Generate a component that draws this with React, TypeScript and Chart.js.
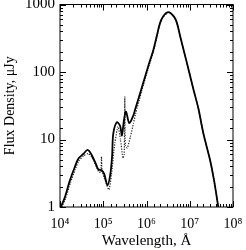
import React, { useEffect, useRef } from "react";
import { Chart, registerables } from "chart.js";

Chart.register(...registerables);

const solidWavelength = [1.05e4, 1.3e4, 1.7e4, 2.2e4, 2.65e4, 3.45e4, 4.35e4, 5.4e4, 6.7e4, 7.7e4, 9.1e4, 1.05e5, 1.25e5, 1.45e5, 1.6e5, 1.7e5, 2.05e5, 2.45e5, 2.7e5, 3.0e5, 3.35e5, 4.0e5, 5.0e5, 5.42e5, 7.74e5, 1.1e6, 1.44e6, 1.75e6, 2.05e6, 2.44e6, 3.2e6, 4.32e6, 5.07e6, 5.96e6, 8.5e6, 1.21e7, 1.58e7, 2.06e7, 2.94e7, 3.64e7, 4.57e7];
const solidFlux = [1.0, 1.4, 2.5, 3.9, 5.2, 6.1, 7.0, 5.9, 4.4, 3.6, 3.5, 3.1, 2.1, 3.0, 5.6, 12, 18, 16, 11.5, 19, 26, 17.5, 23, 27.4, 58, 123, 212, 353, 530, 670, 770, 660, 530, 345, 140, 56, 29, 12.4, 5.0, 2.5, 1.0];

const dottedWavelength = [1.1e4, 1.35e4, 1.75e4, 2.25e4, 2.7e4, 3.5e4, 4.45e4, 5.5e4, 6.8e4, 8.0e4, 8.8e4, 9.1e4, 9.4e4, 1.1e5, 1.35e5, 1.55e5, 1.85e5, 2.2e5, 2.5e5, 2.85e5, 3.05e5, 3.15e5, 3.25e5, 3.6e5, 4.25e5, 5.0e5, 5.6e5, 7.74e5, 1.1e6, 1.44e6, 1.75e6, 2.05e6, 2.44e6, 3.2e6, 4.32e6, 5.07e6, 5.96e6, 8.5e6, 1.21e7, 1.58e7, 2.06e7, 2.94e7, 3.64e7, 4.57e7];
const dottedFlux = [1.0, 1.35, 2.3, 3.6, 4.8, 5.7, 6.2, 5.4, 4.0, 3.3, 3.3, 5.6, 3.4, 2.5, 1.8, 3.0, 8.8, 15.5, 10, 5.3, 6, 43, 8, 7.5, 11, 17.4, 24, 52, 114, 198, 335, 510, 655, 760, 660, 530, 345, 140, 56, 29, 12.4, 5.0, 2.5, 1.0];

const xTickLabels: Record<number, string> = { 4: "10⁴", 5: "10⁵", 6: "10⁶", 7: "10⁷", 8: "10⁸" };
const yTickLabels: Record<number, string> = { 0: "1", 1: "10", 2: "100", 3: "1000" };

const FONT = "'Liberation Serif', 'Times New Roman', serif";

function isDecade(v: number) {
  const l = Math.log10(v);
  return Math.abs(l - Math.round(l)) < 1e-6;
}

const inwardTicks = {
  id: "inwardTicks",
  afterDraw(chart: any) {
    const ctx = chart.ctx;
    const { left, right, top, bottom } = chart.chartArea;
    ctx.save();
    ctx.strokeStyle = "#000";
    ctx.lineWidth = 1;
    ctx.strokeRect(left, top, right - left, bottom - top);
    const xs = chart.scales.x;
    const ys = chart.scales.y;
    ctx.beginPath();
    xs.ticks.forEach((t: any) => {
      const p = Math.round(xs.getPixelForValue(t.value)) + 0.5;
      const len = isDecade(t.value) ? 6 : 3;
      ctx.moveTo(p, bottom);
      ctx.lineTo(p, bottom - len);
      ctx.moveTo(p, top);
      ctx.lineTo(p, top + len);
    });
    ys.ticks.forEach((t: any) => {
      const p = Math.round(ys.getPixelForValue(t.value)) + 0.5;
      const len = isDecade(t.value) ? 6 : 3;
      ctx.moveTo(left, p);
      ctx.lineTo(left + len, p);
      ctx.moveTo(right, p);
      ctx.lineTo(right - len, p);
    });
    ctx.stroke();
    ctx.restore();
  },
};

export default function App() {
  const ref = useRef<HTMLCanvasElement>(null);
  useEffect(() => {
    document.body.style.margin = "0";
    const chart = new Chart(ref.current!, {
      type: "line",
      data: {
        datasets: [
          {
            data: solidWavelength.map((x, i) => ({ x, y: solidFlux[i] })),
            borderColor: "#000",
            borderWidth: 1.8,
            pointRadius: 0,
            tension: 0.3,
            fill: false,
          },
          {
            data: dottedWavelength.map((x, i) => ({ x, y: dottedFlux[i] })),
            borderColor: "#222",
            borderWidth: 1.2,
            borderDash: [1.2, 1.4],
            pointRadius: 0,
            tension: 0.2,
            fill: false,
          },
        ],
      },
      options: {
        animation: false,
        responsive: false,
        maintainAspectRatio: false,
        layout: { padding: { top: 4.5, right: 13, left: 0, bottom: 0 } },
        plugins: { legend: { display: false }, tooltip: { enabled: false } },
        scales: {
          x: {
            type: "logarithmic",
            min: 1e4,
            max: 1e8,
            grid: { display: false, drawTicks: false },
            border: { display: false },
            ticks: {
              autoSkip: false,
              maxRotation: 0,
              padding: 9,
              color: "#000",
              font: { family: FONT, size: 14 },
              callback: (v: any) => (isDecade(v) ? xTickLabels[Math.round(Math.log10(v))] : ""),
            },
            title: {
              display: true,
              text: "Wavelength, Å",
              color: "#000",
              font: { family: FONT, size: 15 },
              padding: { top: 0, bottom: 0 },
            },
            afterFit: (s: any) => {
              s.height = 43;
              s.paddingLeft = 0;
              s.paddingRight = 0;
            },
          },
          y: {
            type: "logarithmic",
            min: 1,
            max: 1000,
            grid: { display: false, drawTicks: false },
            border: { display: false },
            ticks: {
              autoSkip: false,
              padding: 5,
              color: "#000",
              font: { family: FONT, size: 15 },
              callback: (v: any) => (isDecade(v) ? yTickLabels[Math.round(Math.log10(v))] : ""),
            },
            title: {
              display: true,
              text: "Flux Density, μJy",
              color: "#000",
              font: { family: FONT, size: 14 },
              padding: { top: 2, bottom: 4 },
            },
            afterFit: (s: any) => {
              s.width = 60;
              s.paddingTop = 0;
              s.paddingBottom = 0;
            },
          },
        },
      },
      plugins: [inwardTicks],
    });
    return () => chart.destroy();
  }, []);
  return (
    <div style={{ position: "absolute", left: 0, top: 0, width: 246, height: 250 }}>
      <canvas ref={ref} width={246} height={250} style={{ width: 246, height: 250 }} />
    </div>
  );
}
